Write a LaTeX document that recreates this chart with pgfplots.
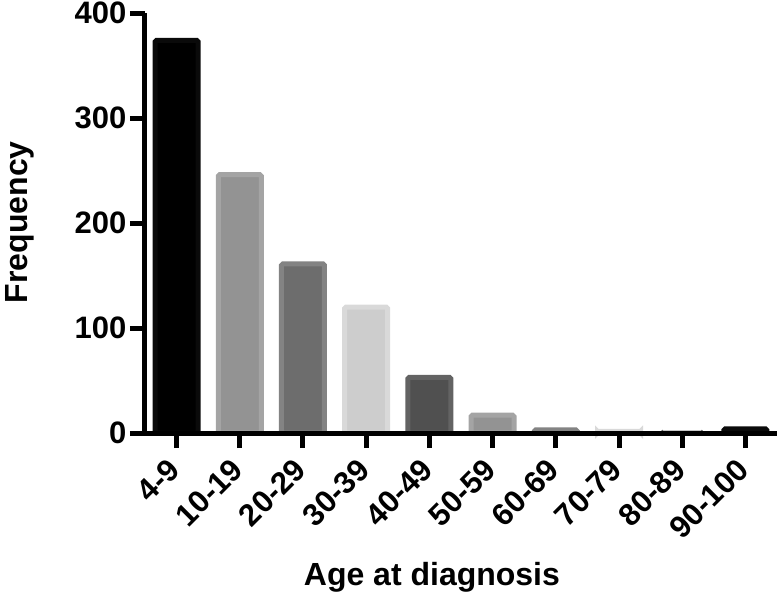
\documentclass[border=0pt]{standalone}
\usepackage{fontspec}
\setmainfont{Liberation Sans}
\usepackage{pgfplots}
\pgfplotsset{compat=1.18}
\definecolor{fA}{HTML}{000000}\definecolor{dA}{HTML}{0A0A0A}
\definecolor{fB}{HTML}{939393}\definecolor{dB}{HTML}{A4A4A4}
\definecolor{fC}{HTML}{6D6D6D}\definecolor{dC}{HTML}{838383}
\definecolor{fD}{HTML}{CDCDCD}\definecolor{dD}{HTML}{D9D9D9}
\definecolor{fE}{HTML}{505050}\definecolor{dE}{HTML}{636363}
\begin{document}
\begin{tikzpicture}
\path[use as bounding box] (-145pt,-165pt) rectangle (632pt,433pt);
\begin{axis}[
  scale only axis, width=632pt, height=420pt,
  at={(0pt,0pt)}, anchor=south west,
  xmin=-0.5, xmax=9.5, ymin=0, ymax=400,
  axis x line*=bottom, axis y line*=left,
  axis line style={line width=5pt, -},
  xtick={0,...,9},
  xticklabels={4-9,10-19,20-29,30-39,40-49,50-59,60-69,70-79,80-89,90-100},
  ytick={0,100,200,300,400},
  tick align=outside, major tick length=15pt,
  tick style={line width=5pt, black},
  ticklabel style={font=\fontsize{31}{36}\selectfont\bfseries},
  /pgf/number format/assume math mode=true,
  xticklabel style={rotate=45, anchor=east},
  xticklabel shift=14pt,
  clip=false, axis on top,
  every axis plot/.append style={ybar, bar width=43pt, bar shift=0pt, line width=5pt, rounded corners=1.5pt},
]
\addplot[fill=fA, draw=dA] coordinates {(0,374)};
\addplot[fill=fB, draw=dB] coordinates {(1,246)};
\addplot[fill=fC, draw=dC] coordinates {(2,161)};
\addplot[fill=fD, draw=dD] coordinates {(3,120)};
\addplot[fill=fE, draw=dE] coordinates {(4,53)};
\addplot[fill=fB, draw=dB] coordinates {(5,17)};
\addplot[fill=fC, draw=dC] coordinates {(6,3)};
\addplot[fill=fD, draw=dD] coordinates {(7,1.5)};
\addplot[fill=fE, draw=dE] coordinates {(8,0)};
\addplot[fill=fA, draw=dA] coordinates {(9,4)};
\node[font=\fontsize{32}{36}\selectfont\bfseries] at (rel axis cs:0.454,-0.343) {Age at diagnosis};
\node[font=\fontsize{32}{36}\selectfont\bfseries, rotate=90] at (rel axis cs:-0.198,0.502) {Frequency};
\end{axis}
\end{tikzpicture}
\end{document}
